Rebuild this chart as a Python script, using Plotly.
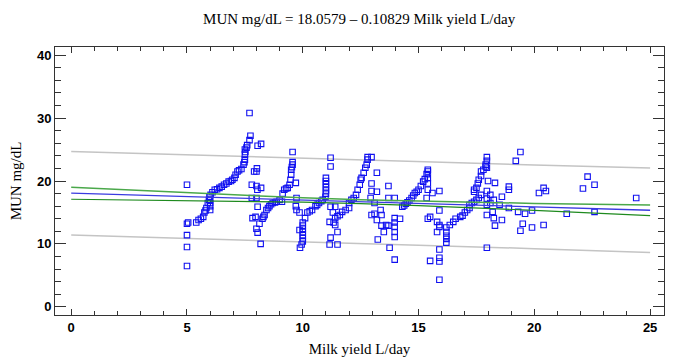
import plotly.graph_objects as go

milk_a = [5.0, 5.0, 5.05, 5.0, 5.0, 5.0]
mun_a = [19.4, 13.2, 13.4, 11.4, 9.5, 6.5]

milk_r1 = [5.4, 5.5, 5.6, 5.7, 5.75, 5.8, 5.84, 5.9, 5.95, 5.97, 6.0, 6.0, 6.0, 6.0, 6.02, 6.1, 6.2, 6.3,
           6.4, 6.5, 6.6, 6.7, 6.8, 6.9, 6.96, 7.05, 7.1, 7.18, 7.25, 7.35, 7.44, 7.48, 7.5, 7.5, 7.52,
           7.5, 7.57, 7.6, 7.7, 7.74, 7.7]
mun_r1 = [13.4, 13.8, 14.0, 14.3, 15.0, 15.3, 15.7, 16.5, 17.0, 17.5, 15.4, 16.0, 16.5, 17.0, 17.8, 18.2,
          18.6, 18.7, 18.9, 19.1, 19.4, 19.6, 19.9, 20.0, 20.2, 20.5, 21.0, 21.5, 21.7, 21.9, 22.6, 23.0,
          23.4, 24.2, 24.6, 25.0, 25.3, 25.7, 26.5, 27.2, 30.8]

milk_s8 = [8.2, 8.05, 8.0, 8.02, 7.9, 7.8, 8.0, 7.8, 8.0, 8.05, 7.83, 7.96, 8.0, 8.13, 8.05, 8.18, 8.2, 8.04]
mun_s8 = [25.9, 25.6, 21.5, 22.0, 21.5, 19.4, 19.2, 17.3, 17.3, 15.9, 14.1, 14.3, 12.4, 13.2, 11.8, 10.0,
          18.9, 18.6]

milk_r2 = [8.26, 8.3, 8.35, 8.43, 8.5, 8.56, 8.63, 8.7, 8.8, 8.87, 9.0, 9.1, 9.13, 9.2, 9.28, 9.35, 9.43,
           9.47, 9.5, 9.5, 9.53, 9.56, 9.56, 9.56,
           9.7, 9.73, 9.7, 9.73, 9.86, 9.86]
mun_r2 = [14.0, 14.3, 14.6, 15.4, 15.7, 16.0, 16.3, 16.5, 16.6, 16.7, 17.0, 16.7, 18.0, 18.6, 18.8, 18.9,
          19.4, 20.2, 21.0, 21.8, 22.2, 22.6, 23.0, 24.6,
          19.7, 17.3, 16.0, 15.4, 15.0, 12.2]

milk_r3 = [9.88, 9.95, 10.0, 10.0, 10.0, 10.0, 10.0, 10.0, 10.0, 10.1, 10.2, 10.3, 10.4, 10.55, 10.62,
           10.7, 10.8, 10.86, 10.98, 11.0, 11.0, 11.0, 11.0, 11.0, 11.0, 11.2, 11.2,
           11.2, 11.4, 11.3, 11.16, 11.33, 11.4, 11.2, 11.5, 11.16, 11.5]
mun_r3 = [9.4, 9.9, 10.4, 10.9, 11.4, 11.9, 12.4, 12.9, 13.4, 14.1, 15.0, 15.2, 15.4, 16.0, 16.2, 16.5,
          16.8, 17.0, 17.5, 18.0, 18.5, 19.0, 19.5, 20.0, 20.5, 22.3, 23.7,
          15.9, 15.9, 15.0, 13.5, 13.4, 13.0, 11.0, 11.9, 9.9, 9.9]

milk_r4 = [11.4, 11.5, 11.6, 11.7, 11.85, 12.0, 12.0, 12.1, 12.2, 12.3, 12.37, 12.46, 12.5, 12.54, 12.63,
           12.7, 12.76, 12.8, 12.8, 12.97,
           13.2, 12.97, 12.97, 13.2, 13.7, 13.97, 13.7, 12.93, 13.1, 13.36, 12.97, 13.1, 13.4, 13.2,
           13.4, 13.6, 13.7, 13.5, 13.24, 13.75, 13.97, 13.97, 13.97, 13.97, 13.97, 13.97, 14.2]
mun_r4 = [14.1, 14.4, 14.6, 15.1, 15.4, 15.7, 16.5, 17.0, 17.3, 17.8, 18.6, 19.4, 20.2, 20.5, 21.3, 22.1,
          22.6, 23.4, 23.8, 23.8,
          21.3, 19.6, 18.4, 18.3, 19.2, 17.3, 17.3, 17.3, 16.5, 15.4, 14.6, 14.8, 14.6, 13.8, 12.9,
          13.0, 12.9, 11.9, 10.7, 9.4, 7.5, 14.1, 13.4, 12.7, 11.9, 11.1, 14.0]

milk_r5 = [14.3, 14.38, 14.45, 14.52, 14.6, 14.7, 14.77, 14.84, 14.92, 15.0, 15.1, 15.2, 15.27, 15.35,
           15.4, 15.4, 15.4, 15.4, 15.4,
           15.35, 15.6, 15.5, 15.8, 15.8, 15.9, 15.9, 15.9, 15.9, 15.9, 15.5, 15.4, 15.9, 15.9, 15.9]
mun_r5 = [15.9, 16.1, 16.4, 16.6, 16.9, 17.3, 17.7, 18.1, 18.3, 18.6, 19.2, 19.9, 20.3, 21.1, 21.5, 21.8,
          20.5, 19.6, 18.6,
          17.3, 18.1, 14.3, 13.5, 11.9, 12.7, 9.1, 7.8, 7.2, 4.3, 7.3, 14.0, 18.4, 15.3, 13.0]

milk_r6 = [16.2, 16.2, 16.2, 16.2, 16.2, 16.35, 16.5, 16.6, 16.8, 16.9, 17.0, 17.1, 17.2, 17.2, 17.3, 17.4,
           17.5, 17.6, 17.7, 17.4, 17.4, 17.5, 17.56, 17.6, 17.7, 17.7, 17.8, 17.9, 17.9,
           17.95, 17.95, 17.95, 17.95, 17.95, 17.95, 17.95, 17.95]
mun_r6 = [10.2, 10.8, 11.3, 11.9, 12.6, 13.0, 13.5, 14.0, 14.3, 14.5, 15.0, 15.4, 15.7, 16.2, 16.5, 16.7,
          17.0, 17.3, 17.8, 18.3, 18.6, 18.9, 19.6, 20.2, 20.8, 21.5, 21.8, 22.3, 22.6,
          23.8, 23.2, 22.1, 18.4, 17.2, 16.2, 14.6, 9.4]

milk_tail = [18.0, 18.3, 18.1, 18.1, 18.25, 18.2, 18.25, 18.3, 19.4, 19.2, 18.9, 18.9, 18.6, 18.5, 18.9,
             19.3, 19.6, 19.5, 19.4, 19.9, 19.9, 20.2, 20.4, 20.5, 20.4, 18.6,
             22.3, 22.6, 22.1, 24.4, 21.4, 22.6]
mun_tail = [20.0, 19.7, 17.8, 16.5, 17.0, 15.1, 14.1, 12.9, 24.6, 23.2, 19.1, 18.6, 17.5, 16.2, 15.7,
            15.1, 14.8, 13.2, 12.1, 12.6, 15.3, 18.1, 18.9, 18.4, 13.0, 13.8,
            20.7, 19.4, 18.8, 17.3, 14.8, 15.1]

# ---- fitted line and bands ----
band_x = [0, 5, 10, 12.5, 15, 20, 25]
fit_y = [18.058, 17.517, 16.975, 16.704, 16.434, 15.892, 15.351]
conf_upper = [19.0, 18.1, 17.32, 17.0, 16.78, 16.44, 16.2]
conf_lower = [17.1, 16.92, 16.63, 16.4, 16.09, 15.34, 14.5]
pred_upper = [24.7, 24.15, 23.6, 23.3, 23.05, 22.55, 22.05]
pred_lower = [11.4, 10.9, 10.35, 10.1, 9.8, 9.25, 8.65]

title_text = "MUN mg/dL = 18.0579 \u2013 0.10829 Milk yield L/day"
x_title = "Milk yield L/day"
y_title = "MUN mg/dL"

milk = milk_a + milk_r1 + milk_s8 + milk_r2 + milk_r3 + milk_r4 + milk_r5 + milk_r6 + milk_tail
mun = mun_a + mun_r1 + mun_s8 + mun_r2 + mun_r3 + mun_r4 + mun_r5 + mun_r6 + mun_tail

fig = go.Figure()
fig.add_trace(go.Scatter(x=band_x, y=pred_upper, mode="lines",
                         line=dict(color="#c4c4c4", width=1.5), hoverinfo="skip"))
fig.add_trace(go.Scatter(x=band_x, y=pred_lower, mode="lines",
                         line=dict(color="#c4c4c4", width=1.5), hoverinfo="skip"))
fig.add_trace(go.Scatter(x=milk, y=mun, mode="markers",
                         marker=dict(symbol="square-open", size=5.5, color="#1010f0",
                                     line=dict(width=1.1, color="#1010f0"))))
fig.add_trace(go.Scatter(x=band_x, y=conf_upper, mode="lines",
                         line=dict(color="#4aa84a", width=1.5), hoverinfo="skip"))
fig.add_trace(go.Scatter(x=band_x, y=conf_lower, mode="lines",
                         line=dict(color="#1e8a1e", width=1.2), hoverinfo="skip"))
fig.add_trace(go.Scatter(x=band_x, y=fit_y, mode="lines",
                         line=dict(color="#3a3ae0", width=1.3), hoverinfo="skip"))

tickfont = dict(family="Liberation Sans, Arial", size=13, color="black")
fig.update_layout(
    width=665, height=355,
    margin=dict(l=47, r=9, t=39, b=48, autoexpand=False),
    paper_bgcolor="white", plot_bgcolor="white",
    showlegend=False,
    title=dict(text=title_text, x=0.528, xanchor="center", y=0.97, yanchor="middle",
               font=dict(family="Liberation Serif, Times New Roman", size=15, color="black")),
)
fig.update_xaxes(
    range=[-0.7, 25.6], tick0=0, dtick=5, ticks="inside", ticklen=6, tickwidth=1, tickcolor="#333",
    minor=dict(dtick=1, ticks="inside", ticklen=4, tickcolor="#333", showgrid=False),
    showgrid=False, zeroline=False, showline=True, linecolor="#333", linewidth=1, mirror="allticks",
    tickfont=tickfont, tickprefix="<b>", ticksuffix="</b>", automargin=False,
    title=dict(text=x_title, standoff=9,
               font=dict(family="Liberation Serif, Times New Roman", size=15, color="black")),
)
fig.update_yaxes(
    range=[-1.3, 41.3], tick0=0, dtick=10, ticks="inside", ticklen=11, tickwidth=1, tickcolor="#333",
    minor=dict(dtick=2, ticks="inside", ticklen=6, tickcolor="#333", showgrid=False),
    showgrid=False, zeroline=False, showline=True, linecolor="#333", linewidth=1, mirror="allticks",
    tickfont=tickfont, tickprefix="<b>", ticksuffix="</b>", automargin=False,
    title=dict(text=y_title, standoff=13,
               font=dict(family="Liberation Serif, Times New Roman", size=15, color="black")),
)

fig.write_html("out.html")
